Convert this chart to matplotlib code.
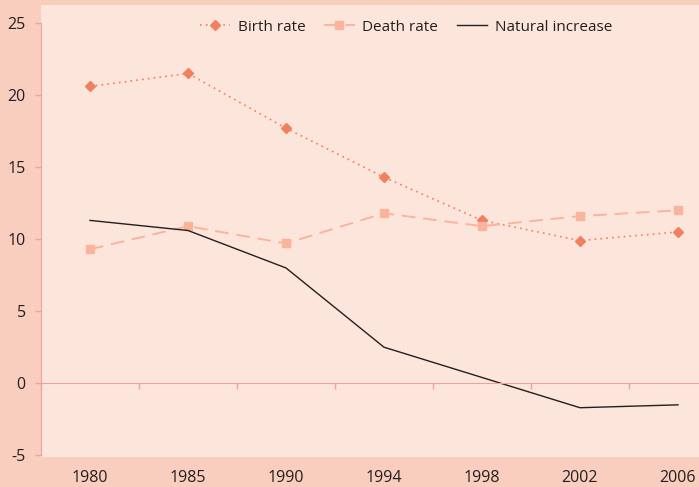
import matplotlib
matplotlib.use('Agg')
import matplotlib.pyplot as plt

# data
years = ['1980', '1985', '1990', '1994', '1998', '2002', '2006']
birth_rate = [20.6, 21.5, 17.7, 14.3, 11.3, 9.9, 10.5]
death_rate = [9.3, 10.9, 9.7, 11.8, 10.9, 11.6, 12.0]
natural_increase = [11.3, 10.6, 8.0, 2.5, 0.4, -1.7, -1.5]
yticks = [-5, 0, 5, 10, 15, 20, 25]

outer_bg = '#F9CEBE'
inner_bg = '#FCE5DB'
axis_col = '#EFA3A0'
text_col = '#231F20'

plt.rcParams['font.family'] = ['Open Sans', 'DejaVu Sans']
plt.rcParams['axes.unicode_minus'] = False

fig = plt.figure(figsize=(6.99, 4.87), dpi=100, facecolor=outer_bg)
ax = fig.add_axes([41/699, 30/487, 686/699, 452/487], facecolor=inner_bg)

x = list(range(len(years)))
ax.plot(x, birth_rate, color='#F08060', lw=1.2, ls=(0, (1, 2.5)), marker='D',
        ms=5, label='Birth rate')
ax.plot(x, death_rate, color='#FAB49C', lw=1.4, ls=(0, (7, 4)), marker='s',
        ms=5.5, label='Death rate')
ax.plot(x, natural_increase, color=text_col, lw=1.0, label='Natural increase')

ax.set_xlim(-0.5, 6.5)
ax.set_ylim(-5.12, 26.25)

# spines
for s in ['top', 'right']:
    ax.spines[s].set_visible(False)
ax.spines['left'].set_color(axis_col)
ax.spines['left'].set_bounds(-5, 25)
ax.spines['bottom'].set_position(('data', 0))
ax.spines['bottom'].set_color(axis_col)

ax.set_yticks(yticks)
ax.tick_params(axis='y', colors=axis_col, length=4, width=1, pad=7,
               labelcolor=text_col, labelsize=11.5)
ax.set_xticks([i + 0.5 for i in x[:-1]] + [-0.5])
ax.set_xticklabels([])
ax.tick_params(axis='x', colors=axis_col, length=4, width=1, direction='out')

sec = ax.secondary_xaxis('bottom')
sec.set_xticks(x, labels=years)
sec.spines['bottom'].set_visible(False)
sec.tick_params(length=0, pad=9, labelsize=11.5, labelcolor=text_col)

leg = ax.legend(loc='center', bbox_to_anchor=(0.532, 0.951), ncol=3, frameon=False,
                fontsize=11, handlelength=2.0, columnspacing=1.2, handletextpad=0.5,
                labelcolor=text_col)

fig.savefig('out.png', dpi=100, facecolor=outer_bg)
